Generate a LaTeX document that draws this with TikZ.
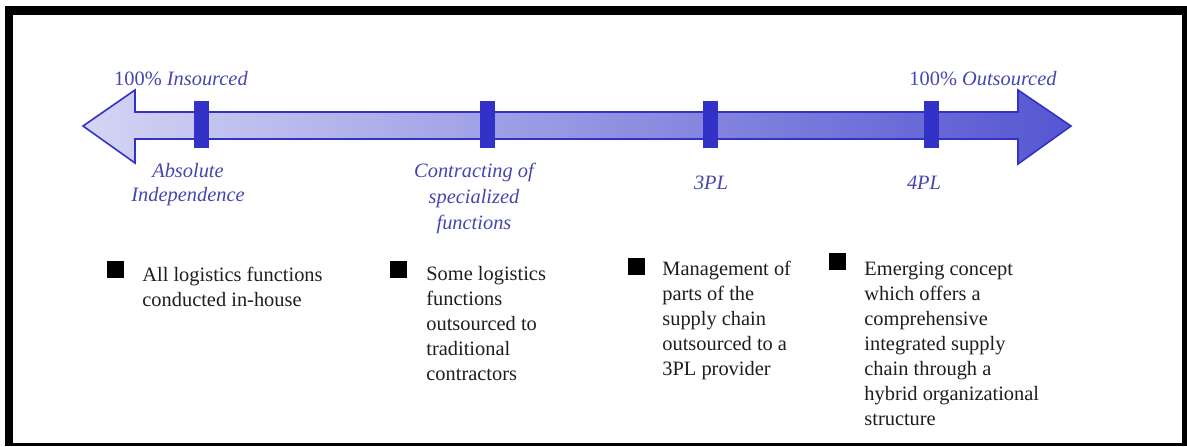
\documentclass[tikz,border=0pt]{standalone}
\usepackage{fontspec}
\setmainfont{Liberation Serif}
\usetikzlibrary{positioning}
\definecolor{barblue}{RGB}{50,50,200}
\definecolor{labblue}{RGB}{70,70,176}
\definecolor{shaftlight}{RGB}{212,212,244}
\definecolor{shaftdark}{RGB}{86,86,210}
\definecolor{txtgray}{RGB}{30,30,30}
\tikzset{notch/.style = {fill=barblue, minimum width=7.5pt, minimum height=23.5pt, inner sep=0}}
\tikzset{lab/.style = {text=labblue, font=\fontsize{10.2}{12}\selectfont, align=center, inner sep=0}}
\tikzset{bul/.style = {fill=black, minimum size=8.5pt, inner sep=0}}
% base anchor of a multi-line node sits on its last line
\tikzset{desc/.style = {text=txtgray, font=\fontsize{10.2}{12.5}\selectfont, align=left, anchor=base west, inner sep=0}}

\begin{document}
\begin{tikzpicture}[x=0.5pt, y=-0.5pt]
      \useasboundingbox (0, 0) rectangle (1187, 446);
      % frame
      \fill [black] (5, 6) rectangle (1187, 446);
      \fill [white] (13, 15) rectangle (1182, 443);

      % double arrow
      \draw [draw=barblue, line width=0.8pt, left color=shaftlight, right color=shaftdark, line join=miter]
      (83, 126) -- (135, 90) -- (135, 112) -- (1018, 112) -- (1018, 90) -- (1071, 126)
      -- (1018, 164) -- (1018, 139) -- (135, 139) -- (135, 163) -- cycle;

      \node [notch] (tk1) at (201, 124) {};
      \node [notch] (tk2) at (487, 124) {};
      \node [notch] (tk3) at (710, 124) {};
      \node [notch] (tk4) at (931, 124) {};

      \node [lab] (ins) at (181, 79) {100\% \textit{Insourced}};
      \node [lab] (outs) at (983, 79) {100\% \textit{Outsourced}};

      \node [lab, font=\fontsize{10.2}{12}\selectfont\itshape] (abs) at (188, 185) {Absolute\\Independence};
      \node [lab, font=\fontsize{10.2}{13}\selectfont\itshape] (con) at (474, 198) {Contracting of\\specialized\\functions};
      \node [lab, font=\fontsize{10.2}{12}\selectfont\itshape] (3pl) at (711, 183) {3PL};
      \node [lab, font=\fontsize{10.2}{12}\selectfont\itshape] (4pl) at (924, 183) {4PL};

      % bullets
      \node [bul] (b1) at (115.5, 269) {};
      \node [bul] (b2) at (398, 269) {};
      \node [bul] (b3) at (636.5, 266) {};
      \node [bul] (b4) at (837, 261.5) {};

      \node [desc] (d1) at (142, 306) {All logistics functions\\conducted in-house};
      \node [desc] (d2) at (426, 380) {Some logistics\\functions\\outsourced to\\traditional\\contractors};
      \node [desc] (d3) at (662, 375) {Management of\\parts of the\\supply chain\\outsourced to a\\3PL provider};
      \node [desc] (d4) at (864, 425) {Emerging concept\\which offers a\\comprehensive\\integrated supply\\chain through a\\hybrid organizational\\structure};
    \end{tikzpicture}
\end{document}
